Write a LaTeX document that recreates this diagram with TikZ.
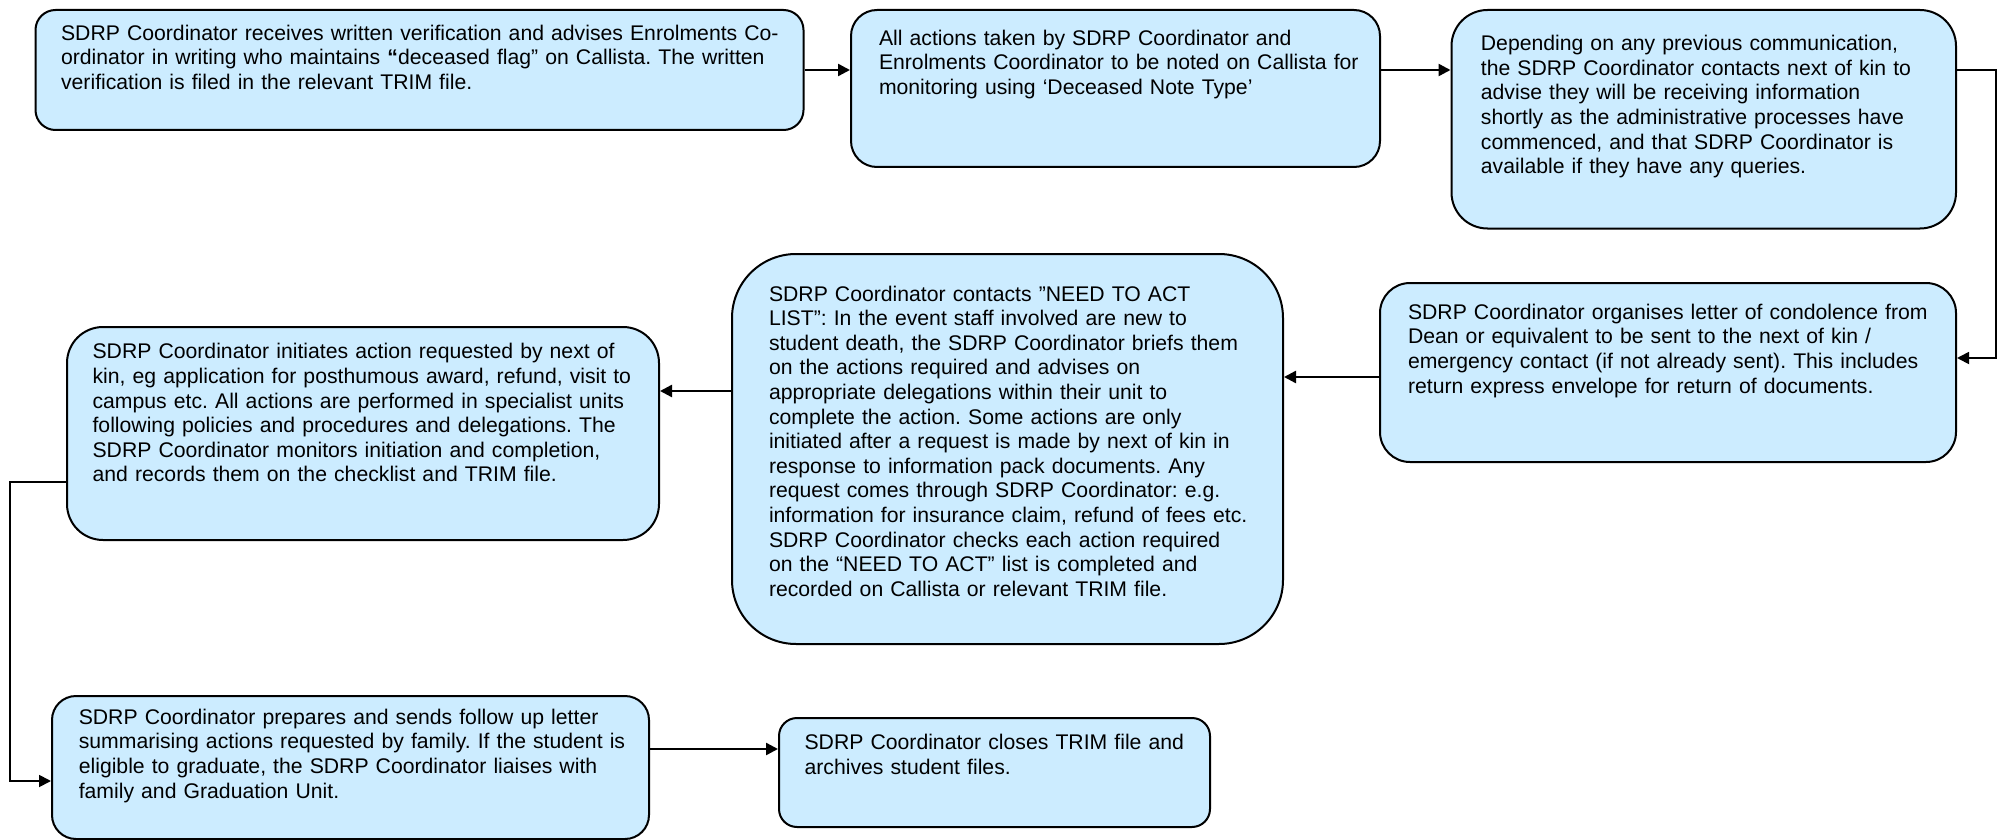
\documentclass[tikz,border=0pt]{standalone}
\usepackage{fontspec}
\setmainfont{Liberation Sans}
\usetikzlibrary{arrows.meta,positioning,calc}
\definecolor{boxblue}{HTML}{CCECFF}
\tikzset{
  stepbox/.style={draw, line width=1pt, fill=boxblue, anchor=north west, align=left,
    inner xsep=0pt, text height=7.6pt, font=\fontsize{10.6}{12.3}\selectfont\frenchspacing},
  boxdim/.style n args={4}{text width=#1pt, text depth=#2pt, inner ysep=#4pt,
    execute at begin node={\leftskip=#3pt\relax}},
  flow/.style={line width=1.2pt, -{Triangle[length=6pt,width=6pt]}}
}

\begin{document}
\begin{tikzpicture}[x=1pt,y=1pt]
	\useasboundingbox (0,0) rectangle (1002,-420);
	
	% Top row
	\node[stepbox, boxdim={384}{37.4}{12.8}{7.5}, rounded corners=10pt] (b1) at (17.25,-4.5)
		{SDRP Coordinator receives written verification and advises Enrolments Co-\\
		ordinator in writing who maintains \textbf{“}deceased flag” on Callista. The written\\
		verification is filed in the relevant TRIM file.};
	\node[stepbox, boxdim={264.5}{50.9}{14}{10}, rounded corners=13pt] (b2) at (425,-4.5)
		{All actions taken by SDRP Coordinator and\\
		Enrolments Coordinator to be noted on Callista for\\
		monitoring using ‘Deceased Note Type’};
	\node[stepbox, boxdim={252.25}{76.05}{14.7}{12.8}, rounded corners=18pt] (b3) at (725.25,-4.5)
		{Depending on any previous communication,\\
		the SDRP Coordinator contacts next of kin to\\
		advise they will be receiving information\\
		shortly as the administrative processes have\\
		commenced, and that SDRP Coordinator is\\
		available if they have any queries.};
	
	% Middle row
	\node[stepbox, boxdim={288}{60.9}{14}{10.5}, rounded corners=15pt] (b4) at (689.5,-141)
		{SDRP Coordinator organises letter of condolence from\\
		Dean or equivalent to be sent to the next of kin /\\
		emergency contact (if not already sent). This includes\\
		return express envelope for return of documents.};
	\node[stepbox, boxdim={275.5}{155.4}{18.5}{16}, rounded corners=32pt] (b5) at (365.5,-126.5)
		{SDRP Coordinator contacts ”NEED TO ACT\\
		LIST”: In the event staff involved are new to\\
		student death, the SDRP Coordinator briefs them\\
		on the actions required and advises on\\
		appropriate delegations within their unit to\\
		complete the action. Some actions are only\\
		initiated after a request is made by next of kin in\\
		response to information pack documents. Any\\
		request comes through SDRP Coordinator: e.g.\\
		information for insurance claim, refund of fees etc.\\
		SDRP Coordinator checks each action required\\
		on the “NEED TO ACT” list is completed and\\
		recorded on Callista or relevant TRIM file.};
	\node[stepbox, boxdim={296}{82.3}{12.8}{8.3}, rounded corners=18pt] (b6) at (33,-163)
		{SDRP Coordinator initiates action requested by next of\\
		kin, eg application for posthumous award, refund, visit to\\
		campus etc. All actions are performed in specialist units\\
		following policies and procedures and delegations. The\\
		SDRP Coordinator monitors initiation and completion,\\
		and records them on the checklist and TRIM file.};
	
	% Bottom row
	\node[stepbox, boxdim={298.5}{50.9}{13.4}{6.5}, rounded corners=12pt] (b7) at (25.5,-347.5)
		{SDRP Coordinator prepares and sends follow up letter\\
		summarising actions requested by family. If the student is\\
		eligible to graduate, the SDRP Coordinator liaises with\\
		family and Graduation Unit.};
	\node[stepbox, boxdim={215.5}{30.3}{12.8}{8.3}, rounded corners=9pt] (b8) at (389,-358.5)
		{SDRP Coordinator closes TRIM file and\\
		archives student files.};
	
	% Bend points
	\coordinate (c34) at (998,-179);
	\coordinate (c45) at (0,-188.5);
	\coordinate (c56) at (0,-195.5);
	\coordinate (c67) at (5,-241);
	\coordinate (c76) at (5,-390.5);
	\coordinate (c78) at (0,-374.5);
	
	% Flow arrows
	\draw[flow] (b1.east) -- (b1.east -| b2.west);
	\draw[flow] (b2.east |- b1.east) -- (b3.west |- b1.east);
	\draw[flow, line width=0.9pt] (b3.east |- b1.east) -| (c34) -- (c34 -| b4.east);
	\draw[flow] (b4.west |- c45) -- (b5.east |- c45);
	\draw[flow] (b5.west |- c56) -- (b6.east |- c56);
	\draw[flow, line width=0.9pt] (b6.west |- c67) -- (c67) -- (c76) -- (b7.west |- c76);
	\draw[flow] (b7.east |- c78) -- (b8.west |- c78);
\end{tikzpicture}
\end{document}
